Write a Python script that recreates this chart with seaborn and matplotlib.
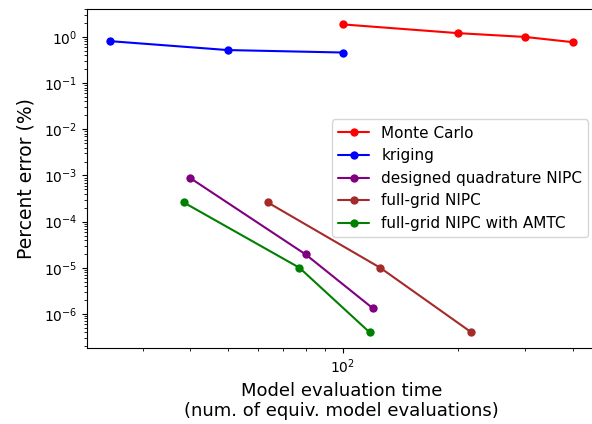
import matplotlib
matplotlib.use("Agg")
import matplotlib.pyplot as plt
import seaborn as sns
import pandas as pd

sns.set_style("ticks", rc={"axes.edgecolor": "black", "text.color": "black",
                           "axes.labelcolor": "black", "xtick.color": "black",
                           "ytick.color": "black"})
plt.rcParams['font.family'] = ['DejaVu Sans']

methods = ["Monte Carlo", "kriging", "designed quadrature NIPC",
           "full-grid NIPC", "full-grid NIPC with AMTC"]
colors = ["red", "blue", "purple", "brown", "green"]

mc_time = [100, 200, 300, 400]
mc_err = [1.87, 1.21, 1.0, 0.77]
kr_time = [24.7, 50, 100]
kr_err = [0.81, 0.52, 0.46]
dq_time = [40, 80, 120]
dq_err = [8.7e-4, 1.95e-5, 1.32e-6]
fg_time = [63.7, 125.4, 217]
fg_err = [2.6e-4, 1.0e-5, 4.0e-7]
am_time = [38.4, 77.1, 117.6]
am_err = [2.6e-4, 1.0e-5, 4.0e-7]

times = [mc_time, kr_time, dq_time, fg_time, am_time]
errs = [mc_err, kr_err, dq_err, fg_err, am_err]

rows = []
for m, t, e in zip(methods, times, errs):
    for ti, ei in zip(t, e):
        rows.append({"method": m, "time": ti, "err": ei})
df = pd.DataFrame(rows)

fig = plt.figure(figsize=(5.92, 4.24), dpi=100)
ax = fig.add_axes([87.3 / 592, 1 - 347.7 / 424, (596 - 87.3) / 592, (347.7 - 9) / 424])
sns.lineplot(data=df, x="time", y="err", hue="method", hue_order=methods,
             palette=colors, marker="o", markersize=6, markeredgewidth=0,
             linewidth=1.5, ax=ax, sort=False, estimator=None)
ax.set_xscale("log")
ax.set_yscale("log")
ax.set_xlabel("Model evaluation time\n(num. of equiv. model evaluations)", fontsize=13)
ax.set_ylabel("Percent error (%)", fontsize=13.5, labelpad=6)
ax.legend(loc="center right", fontsize=11, title=None)
fig.savefig("out.png", dpi=100)
